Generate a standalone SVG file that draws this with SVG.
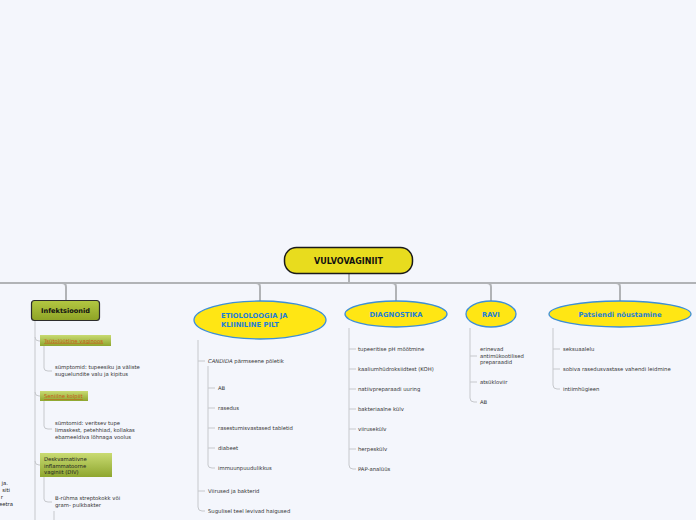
<svg xmlns="http://www.w3.org/2000/svg" width="696" height="520" viewBox="0 0 696 520">
<defs>
<linearGradient id="gMain" x1="0" y1="0" x2="0" y2="1"><stop offset="0" stop-color="#b3c842"/><stop offset="1" stop-color="#8ea326"/></linearGradient>
<linearGradient id="gSub" x1="0" y1="0" x2="0" y2="1"><stop offset="0" stop-color="#c9db72"/><stop offset="1" stop-color="#8ea62f"/></linearGradient>
<style>
.t{font-family:"DejaVu Sans",Verdana,sans-serif;font-size:5.3px;fill:#333}
.bl{font-family:"DejaVu Sans",Verdana,sans-serif;font-weight:bold;fill:#1f7fd6}
.el{fill:#ffe614;stroke:#3d8fd8;stroke-width:1.3}
.c{fill:none;stroke:#c6c8cc;stroke-width:1}
.m{fill:none;stroke:#b1b3b6;stroke-width:2}
.lnk{font-family:"DejaVu Sans",Verdana,sans-serif;font-size:5.3px;fill:#c85a1a;text-decoration:underline}
</style>
</defs>
<rect width="696" height="520" fill="#f4f6fc"/>
<g id="connectors">
<path class="m" d="M0 283 H696"/>
<path class="m" d="M349 274 V283"/>
<path class="m" d="M62 283 Q66 283 66 287 V300"/>
<path class="m" d="M256 283 Q260 283 260 287 V301"/>
<path class="m" d="M392 283 Q396 283 396 287 V301"/>
<path class="m" d="M487 283 Q491 283 491 287 V301"/>
<path class="m" d="M616 283 Q620 283 620 287 V301"/>
<!-- Infektsioonid -->
<path class="c" d="M35 321 V520"/>
<path class="c" d="M35 337 Q35 341 39 341 H40"/>
<path class="c" d="M35 392 Q35 396 39 396 H40"/>
<path class="c" d="M35 461 Q35 465 39 465 H40"/>
<path class="c" d="M44 346 V368 Q44 371 48 371 H52"/>
<path class="c" d="M44 401 V426 Q44 429 48 429 H52"/>
<path class="c" d="M44 477 V499 Q44 502 48 502 H52"/>
<path class="c" d="M54 511 V520"/>
<!-- Etiologia -->
<path class="c" d="M198 340 V507 Q198 511 202 511 H205"/>
<path class="c" d="M198 361 H205"/>
<path class="c" d="M198 491 H205"/>
<path class="c" d="M208 366 V465 Q208 468 212 468 H215"/>
<path class="c" d="M208 388 H215"/>
<path class="c" d="M208 408 H215"/>
<path class="c" d="M208 428 H215"/>
<path class="c" d="M208 448 H215"/>
<!-- Diagnostika -->
<path class="c" d="M349 328 V465 Q349 469 353 469 H356"/>
<path class="c" d="M349 349 H356"/>
<path class="c" d="M349 369 H356"/>
<path class="c" d="M349 389 H356"/>
<path class="c" d="M349 409 H356"/>
<path class="c" d="M349 429 H356"/>
<path class="c" d="M349 449 H356"/>
<!-- Ravi -->
<path class="c" d="M470 328 V398 Q470 402 474 402 H477"/>
<path class="c" d="M470 356 H477"/>
<path class="c" d="M470 382 H477"/>
<!-- Patsiendi -->
<path class="c" d="M553 328 V385 Q553 389 557 389 H560"/>
<path class="c" d="M553 349 H560"/>
<path class="c" d="M553 369 H560"/>
</g>
<g id="root">
<rect x="284.5" y="247.5" width="128" height="26" rx="12" fill="#e8dc1e" stroke="#1a1a1a" stroke-width="1.5"/>
<text x="348.5" y="263.5" text-anchor="middle" font-family="DejaVu Sans,Verdana,sans-serif" font-weight="bold" font-size="8px" fill="#111">VULVOVAGINIIT</text>
</g>
<g id="infektsioonid">
<rect x="31.5" y="300.5" width="68" height="20" rx="3" fill="url(#gMain)" stroke="#2d2d2d" stroke-width="1.2"/>
<text x="65.5" y="313" text-anchor="middle" font-family="DejaVu Sans,Verdana,sans-serif" font-weight="bold" font-size="6.6px" fill="#111">Infektsioonid</text>
</g>
<g id="tsytolyytiline">
<rect x="40" y="335" width="71" height="11" fill="url(#gSub)"/>
<text class="lnk" x="44" y="342.5">Tsütolüütline vaginoos</text>
</g>
<g id="tsyt-symptomid">
<text class="t" x="55" y="369">sümptomid: tupeesiku ja väliste</text>
<text class="t" x="55" y="376">suguelundite valu ja kipitus</text>
</g>
<g id="seniilne">
<rect x="40" y="391" width="48" height="10" fill="url(#gSub)"/>
<text class="lnk" x="44" y="398">Seniilne kolpiit</text>
</g>
<g id="sen-symptomid">
<text class="t" x="55" y="425">sümtomid: veritsev tupe</text>
<text class="t" x="55" y="432">limaskest, petehhiad, kollakas</text>
<text class="t" x="55" y="439">ebameeldiva lõhnaga voolus</text>
</g>
<g id="div">
<rect x="40" y="453" width="72" height="24" fill="url(#gSub)"/>
<text class="t" x="44" y="461" fill="#222" style="fill:#222">Deskvamatiivne</text>
<text class="t" x="44" y="467.5" style="fill:#222">inflammatoorne</text>
<text class="t" x="44" y="474" style="fill:#222">vaginiit (DIV)</text>
</g>
<g id="div-pohjus">
<text class="t" x="55" y="500">B-rühma streptokokk või</text>
<text class="t" x="55" y="507">gram- pulkbakter</text>
</g>
<g id="left-cut">
<text class="t" x="8" y="485" text-anchor="end" style="fill:#222">ja.</text>
<text class="t" x="10" y="492" text-anchor="end" style="fill:#222">siti</text>
<text class="t" x="3" y="499" text-anchor="end" style="fill:#222">r</text>
<text class="t" x="13" y="506" text-anchor="end" style="fill:#222">eetra</text>
</g>
<g id="etioloogia">
<ellipse class="el" cx="260" cy="320" rx="66" ry="19"/>
<text class="bl" x="221" y="318" font-size="6.8px">ETIOLOLOOGIA JA</text>
<text class="bl" x="221" y="327" font-size="6.8px">KLIINILINE PILT</text>
</g>
<g id="etio-children">
<text class="t" x="208" y="363"><tspan font-style="italic">CANDIDA</tspan> pärmseene põletik</text>
<text class="t" x="218" y="390">AB</text>
<text class="t" x="218" y="410">rasedus</text>
<text class="t" x="218" y="430">rasestumisvastased tabletid</text>
<text class="t" x="218" y="450">diabeet</text>
<text class="t" x="218" y="470">immuunpuudulikkus</text>
<text class="t" x="208" y="493">Viirused ja bakterid</text>
<text class="t" x="208" y="513">Sugulisel teel levivad haigused</text>
</g>
<g id="diagnostika">
<ellipse class="el" cx="396" cy="314" rx="51" ry="13"/>
<text class="bl" x="396" y="317" text-anchor="middle" font-size="6.8px">DIAGNOSTIKA</text>
</g>
<g id="diag-children">
<text class="t" x="358" y="351">tupeeritise pH mõõtmine</text>
<text class="t" x="358" y="371">kaaliumhüdroksiidtest (KOH)</text>
<text class="t" x="358" y="391">natiivpreparaadi uuring</text>
<text class="t" x="358" y="411">bakteriaalne külv</text>
<text class="t" x="358" y="431">viirusekülv</text>
<text class="t" x="358" y="451">herpeskülv</text>
<text class="t" x="358" y="471">PAP-analüüs</text>
</g>
<g id="ravi">
<ellipse class="el" cx="491" cy="314" rx="25" ry="13"/>
<text class="bl" x="491" y="317" text-anchor="middle" font-size="6.8px">RAVI</text>
</g>
<g id="ravi-children">
<text class="t" x="480" y="351">erinevad</text>
<text class="t" x="480" y="357.5">antimükootilised</text>
<text class="t" x="480" y="364">preparaadid</text>
<text class="t" x="480" y="384">atsükloviir</text>
<text class="t" x="480" y="404">AB</text>
</g>
<g id="patsiendi">
<ellipse class="el" cx="620" cy="314" rx="71" ry="13"/>
<text class="bl" x="620" y="317" text-anchor="middle" font-size="6.8px">Patsiendi nõustamine</text>
</g>
<g id="pats-children">
<text class="t" x="563" y="351">seksuaalelu</text>
<text class="t" x="563" y="371">sobiva rasedusvastase vahendi leidmine</text>
<text class="t" x="563" y="391">intiimhügieen</text>
</g>
</svg>
